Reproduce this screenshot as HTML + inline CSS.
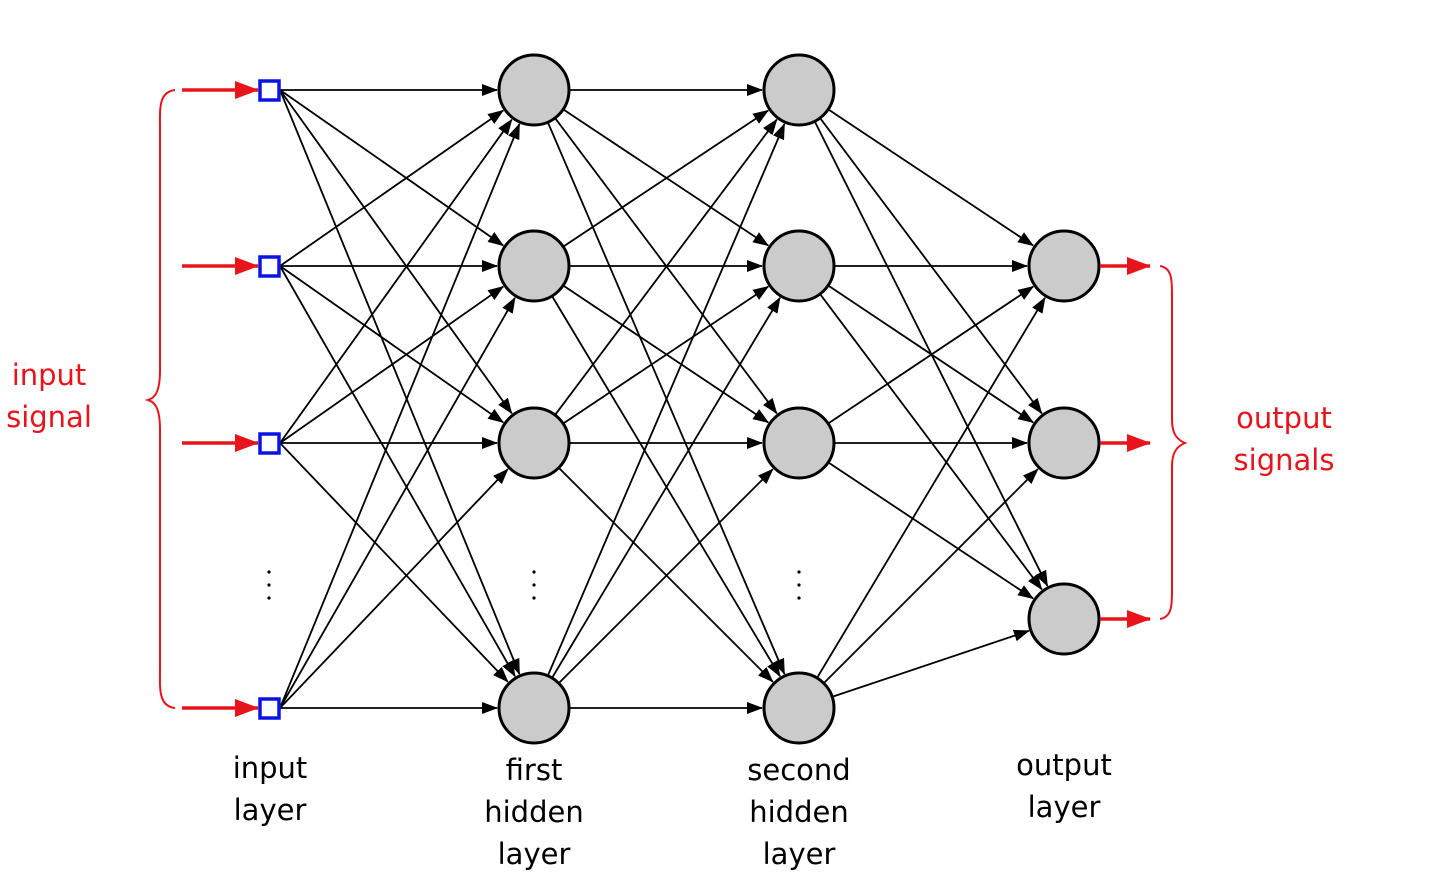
<!DOCTYPE html>
<html><head><meta charset="utf-8"><style>
body{margin:0;background:#fff;}
svg{display:block}
text{font-family:"DejaVu Sans","Liberation Sans",sans-serif;font-size:29px;}
</style></head><body>
<svg id="s" width="1440" height="880" xmlns="http://www.w3.org/2000/svg">
<defs>
<marker id="a" markerWidth="16" markerHeight="12" refX="15" refY="6" orient="auto" markerUnits="userSpaceOnUse"><path d="M0,0 L16,6 L0,12 z" fill="#000"/></marker>
<marker id="r" markerWidth="24" markerHeight="18" refX="23" refY="9" orient="auto" markerUnits="userSpaceOnUse"><path d="M0,0 L24,9 L0,18 z" fill="#e8141c"/></marker>
</defs>
<g id="edges" stroke="#000" stroke-width="1.8" fill="none"></g>
<g id="nodes"></g>
<g fill="#000">
<circle cx="269" cy="572" r="1.6"/><circle cx="269" cy="585" r="1.6"/><circle cx="269" cy="598" r="1.6"/>
<circle cx="534" cy="572" r="1.6"/><circle cx="534" cy="585" r="1.6"/><circle cx="534" cy="598" r="1.6"/>
<circle cx="799" cy="572" r="1.6"/><circle cx="799" cy="585" r="1.6"/><circle cx="799" cy="598" r="1.6"/>
</g>
<path d="M175,90 C158,92 160,110 160,130 L160,370 C160,392 155,398 148,400 C155,402 160,408 160,430 L160,668 C160,688 158,706 175,708" stroke="#e8141c" stroke-width="2" fill="none"/>
<path d="M1160,266 C1172,268 1172,280 1172,295 L1172,420 C1172,435 1178,440 1185,443 C1178,446 1172,451 1172,466 L1172,590 C1172,605 1172,617 1160,619" stroke="#e8141c" stroke-width="2" fill="none"/>
<g fill="#e8141c" text-anchor="middle">
<text x="49" y="385">input</text><text x="49" y="427">signal</text>
<text x="1284" y="428">output</text><text x="1284" y="470">signals</text>
</g>
<g fill="#000" text-anchor="middle">
<text x="270" y="778">input</text><text x="270" y="820">layer</text>
<text x="534" y="780">first</text><text x="534" y="822">hidden</text><text x="534" y="864">layer</text>
<text x="799" y="780">second</text><text x="799" y="822">hidden</text><text x="799" y="864">layer</text>
<text x="1064" y="775">output</text><text x="1064" y="817">layer</text>
</g>
</svg>
<script>
var NS="http://www.w3.org/2000/svg";
var E=document.getElementById("edges"),N=document.getElementById("nodes");
function el(p,t,a){var e=document.createElementNS(NS,t);for(var k in a)e.setAttribute(k,a[k]);p.appendChild(e);return e;}
var Y=[90,266,443,708],YO=[266,443,619],R=36;
var L=[{x:269,ys:Y,sq:1},{x:534,ys:Y},{x:799,ys:Y},{x:1064,ys:YO}];
for(var l=0;l<3;l++){var A=L[l],B=L[l+1];
 A.ys.forEach(function(ya){B.ys.forEach(function(yb){
  var dx=B.x-A.x,dy=yb-ya,d=Math.hypot(dx,dy);
  var sx,sy;
  if(A.sq){sx=280;sy=ya;}else{sx=A.x+dx/d*R;sy=ya+dy/d*R;}
  var ex=B.x-dx/d*(R+1),ey=yb-dy/d*(R+1);
  el(E,"line",{x1:sx,y1:sy,x2:ex,y2:ey,"marker-end":"url(#a)"});
 });});}
Y.forEach(function(y){el(N,"rect",{x:260,y:y-9,width:19,height:19,fill:"#fff",stroke:"#0a14e6","stroke-width":3.5});
 el(N,"line",{x1:182,y1:y,x2:258,y2:y,stroke:"#e8141c","stroke-width":3.5,"marker-end":"url(#r)"});});
[534,799].forEach(function(x){Y.forEach(function(y){el(N,"circle",{cx:x,cy:y,r:35,fill:"#cbcbcb",stroke:"#000","stroke-width":3});});});
YO.forEach(function(y){el(N,"circle",{cx:1064,cy:y,r:35,fill:"#cbcbcb",stroke:"#000","stroke-width":3});
 el(N,"line",{x1:1100,y1:y,x2:1150,y2:y,stroke:"#e8141c","stroke-width":3.5,"marker-end":"url(#r)"});});
</script>
</body></html>
